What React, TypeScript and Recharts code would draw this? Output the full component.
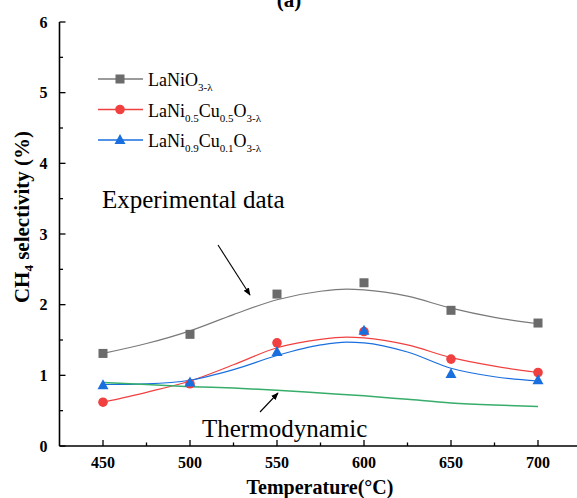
import React from "react";
import { ComposedChart, Line, Scatter, XAxis, YAxis } from "recharts";

const FONT = '"Liberation Serif", "Times New Roman", Times, serif';

// measured points
const temps = [450, 500, 550, 600, 650, 700];
const laNiO3 = [1.31, 1.58, 2.15, 2.31, 1.92, 1.74];
const laNiCu55 = [0.62, 0.88, 1.46, 1.62, 1.23, 1.04];
const laNiCu91 = [0.86, 0.9, 1.33, 1.63, 1.02, 0.93];

// fitted curves
const fitTemps = [450, 475, 500, 525, 550, 575, 590, 600, 625, 650, 675, 700];
const fitLaNiO3 = [1.31, 1.45, 1.63, 1.86, 2.07, 2.19, 2.22, 2.21, 2.12, 1.95, 1.82, 1.73];
const fitLaNiCu55 = [0.62, 0.76, 0.92, 1.15, 1.39, 1.51, 1.54, 1.53, 1.43, 1.25, 1.13, 1.04];
const fitLaNiCu91 = [0.87, 0.88, 0.93, 1.08, 1.28, 1.43, 1.47, 1.46, 1.33, 1.1, 0.98, 0.92];
const thermoTemps = [450, 475, 500, 525, 550, 575, 600, 625, 650, 675, 700];
const thermo = [0.9, 0.87, 0.84, 0.82, 0.79, 0.75, 0.71, 0.66, 0.61, 0.58, 0.56];

const xTicks = [450, 475, 500, 525, 550, 575, 600, 625, 650, 675, 700];
const yTicks = [0, 0.5, 1, 1.5, 2, 2.5, 3, 3.5, 4, 4.5, 5, 5.5, 6];

const GRAY_LINE = "#7a7a7a";
const GRAY = "#6b6b6b";
const RED = "#F14040";
const BLUE = "#1A6FDF";
const GREEN = "#37AD6B";

const toPts = (xs: number[], ys: number[]) => xs.map((x, i) => ({ x, y: ys[i] }));

const BottomTick = (props: any) => {
  const { x, y, payload } = props;
  const major = payload.value % 50 === 0;
  return (
    <g>
      <line x1={x} x2={x} y1={y} y2={y - (major ? 6 : 3.5)} stroke="#000" strokeWidth={1.3} />
      {major && (
        <text x={x} y={y + 22} textAnchor="middle" fontFamily={FONT} fontWeight="bold" fontSize={16} fill="#000">
          {payload.value}
        </text>
      )}
    </g>
  );
};

const TopTick = (props: any) => {
  const { x, y, payload } = props;
  const major = payload.value % 50 === 0;
  return <line x1={x} x2={x} y1={y} y2={y + (major ? 6 : 3.5)} stroke="#000" strokeWidth={1.3} />;
};

const LeftTick = (props: any) => {
  const { x, y, payload } = props;
  const major = Number.isInteger(payload.value);
  return (
    <g>
      <line x1={x} x2={x + (major ? 6 : 3.5)} y1={y} y2={y} stroke="#000" strokeWidth={1.3} />
      {major && (
        <text x={x - 12} y={y + 5.5} textAnchor="end" fontFamily={FONT} fontWeight="bold" fontSize={16} fill="#000">
          {payload.value}
        </text>
      )}
    </g>
  );
};

const Square = (p: any) => <rect x={p.cx - 4.5} y={p.cy - 4.5} width={9} height={9} fill={GRAY} />;
const Circle = (p: any) => <circle cx={p.cx} cy={p.cy} r={4.8} fill={RED} />;
const Tri = (p: any) => (
  <polygon points={`${p.cx},${p.cy - 6} ${p.cx - 5.5},${p.cy + 4} ${p.cx + 5.5},${p.cy + 4}`} fill={BLUE} />
);

const legendItems = [
  { color: GRAY_LINE, marker: "square", parts: [["LaNiO", false], ["3-λ", true]] },
  { color: RED, marker: "circle", parts: [["LaNi", false], ["0.5", true], ["Cu", false], ["0.5", true], ["O", false], ["3-λ", true]] },
  { color: BLUE, marker: "tri", parts: [["LaNi", false], ["0.9", true], ["Cu", false], ["0.1", true], ["O", false], ["3-λ", true]] },
];

export default function App() {
  return (
    <div style={{ position: "fixed", left: 0, top: 0, width: 577, height: 498, overflow: "hidden", background: "#fff" }}>
      <ComposedChart
        width={600}
        height={498}
        margin={{ top: 22, right: 18.5, left: 0, bottom: 0 }}
      >
        <XAxis
          xAxisId="b"
          type="number"
          dataKey="x"
          domain={[425, 725]}
          ticks={xTicks}
          interval={0}
          allowDataOverflow
          height={52}
          tickSize={0}
          tickMargin={0}
          tickLine={false}
          tick={<BottomTick />}
          axisLine={{ stroke: "#000", strokeWidth: 1.6 }}
        />
        <XAxis
          xAxisId="t"
          orientation="top"
          type="number"
          dataKey="x"
          domain={[425, 725]}
          ticks={xTicks}
          interval={0}
          allowDataOverflow
          height={0}
          tickSize={0}
          tickMargin={0}
          tickLine={false}
          tick={<TopTick />}
          axisLine={{ stroke: "#000", strokeWidth: 1.6 }}
        />
        <YAxis
          yAxisId="l"
          type="number"
          domain={[0, 6]}
          ticks={yTicks}
          interval={0}
          allowDataOverflow
          width={59.5}
          tickSize={0}
          tickMargin={0}
          tickLine={false}
          tick={<LeftTick />}
          axisLine={{ stroke: "#000", strokeWidth: 1.6 }}
        />
        <Line xAxisId="b" yAxisId="l" data={toPts(fitTemps, fitLaNiO3)} dataKey="y" type="monotone" stroke={GRAY_LINE} strokeWidth={1.2} dot={false} isAnimationActive={false} />
        <Line xAxisId="b" yAxisId="l" data={toPts(fitTemps, fitLaNiCu55)} dataKey="y" type="monotone" stroke={RED} strokeWidth={1.2} dot={false} isAnimationActive={false} />
        <Line xAxisId="b" yAxisId="l" data={toPts(fitTemps, fitLaNiCu91)} dataKey="y" type="monotone" stroke={BLUE} strokeWidth={1.2} dot={false} isAnimationActive={false} />
        <Line xAxisId="b" yAxisId="l" data={toPts(thermoTemps, thermo)} dataKey="y" type="monotone" stroke={GREEN} strokeWidth={1.5} dot={false} isAnimationActive={false} />
        <Scatter xAxisId="b" yAxisId="l" data={toPts(temps, laNiO3)} dataKey="y" shape={Square} isAnimationActive={false} />
        <Scatter xAxisId="b" yAxisId="l" data={toPts(temps, laNiCu55)} dataKey="y" shape={Circle} isAnimationActive={false} />
        <Scatter xAxisId="b" yAxisId="l" data={toPts(temps, laNiCu91)} dataKey="y" shape={Tri} isAnimationActive={false} />
      </ComposedChart>
      <svg width={577} height={498} style={{ position: "absolute", left: 0, top: 0, pointerEvents: "none" }}>
        <defs>
          <marker id="ah" viewBox="0 0 10 10" refX="9" refY="5" markerWidth="7" markerHeight="7" orient="auto-start-reverse">
            <path d="M0,1 L10,5 L0,9 z" fill="#000" />
          </marker>
        </defs>
        <text x={289} y={7} textAnchor="middle" fontFamily={FONT} fontWeight="bold" fontSize={21} fill="#000">(a)</text>
        <text
          transform="translate(29,217) rotate(-90)"
          textAnchor="middle"
          fontFamily={FONT}
          fontWeight="bold"
          fontSize={21}
          fill="#000"
        >
          CH<tspan fontSize={13} dy={4}>4</tspan>
          <tspan dy={-4}> selectivity (%)</tspan>
        </text>
        <text x={320} y={494} textAnchor="middle" fontFamily={FONT} fontWeight="bold" fontSize={20} fill="#000">
          Temperature(°C)
        </text>
        {legendItems.map((it, i) => {
          const cy = 79 + i * 30.5;
          return (
            <g key={i}>
              <line x1={98} x2={143} y1={cy} y2={cy} stroke={it.color} strokeWidth={1.3} />
              {it.marker === "square" && <rect x={115.5} y={cy - 4.5} width={9} height={9} fill={GRAY} />}
              {it.marker === "circle" && <circle cx={120} cy={cy} r={4.8} fill={RED} />}
              {it.marker === "tri" && <polygon points={`120,${cy - 6} 114.5,${cy + 4} 125.5,${cy + 4}`} fill={BLUE} />}
              <text x={148} y={cy + 7} fontFamily={FONT} fontSize={18} fill="#000">
                {it.parts.map(([t, sub], j) => (
                  <tspan key={j} fontSize={sub ? 11 : 18} dy={j === 0 ? 0 : sub ? 5 : -5}>{t as string}</tspan>
                ))}
              </text>
            </g>
          );
        })}
        <text x={102} y={208} fontFamily={FONT} fontSize={25} fill="#000">Experimental data</text>
        <line x1={218} y1={245} x2={250} y2={295} stroke="#000" strokeWidth={1.1} markerEnd="url(#ah)" />
        <text x={202} y={437} fontFamily={FONT} fontSize={25} fill="#000">Thermodynamic</text>
        <line x1={260} y1={412} x2={278} y2={393} stroke="#000" strokeWidth={1.1} markerEnd="url(#ah)" />
      </svg>
    </div>
  );
}
